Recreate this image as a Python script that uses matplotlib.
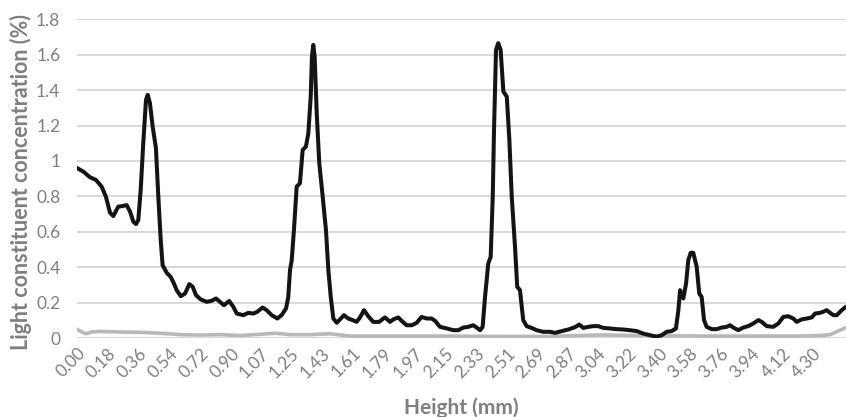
import matplotlib
matplotlib.use("Agg")
import matplotlib.pyplot as plt
import matplotlib.transforms as mtransforms

plt.rcParams['font.family'] = ['Lato', 'DejaVu Sans']

# black trace: height (mm) and concentration (%)
dark_x = [0.000, 0.037, 0.076, 0.111, 0.144, 0.169, 0.193, 0.212, 0.241, 0.267,
          0.290, 0.310, 0.329, 0.345, 0.358, 0.372, 0.387, 0.403, 0.413, 0.426,
          0.442, 0.461, 0.475, 0.489, 0.500, 0.524, 0.547, 0.566, 0.582, 0.606,
          0.631, 0.656, 0.676, 0.695, 0.722, 0.757, 0.787, 0.812, 0.835, 0.858,
          0.889, 0.913, 0.933, 0.971, 1.000, 1.030, 1.053, 1.084, 1.108, 1.137,
          1.170, 1.195, 1.221, 1.234, 1.244, 1.254, 1.267, 1.283, 1.302, 1.318,
          1.337, 1.351, 1.365, 1.372, 1.380, 1.388, 1.400, 1.415, 1.435, 1.454,
          1.468, 1.482, 1.497, 1.517, 1.536, 1.559, 1.584, 1.610, 1.633, 1.653,
          1.676, 1.701, 1.730, 1.765, 1.789, 1.799, 1.828, 1.847, 1.876, 1.896,
          1.925, 1.955, 1.984, 2.013, 2.042, 2.071, 2.091, 2.120, 2.159, 2.198,
          2.227, 2.256, 2.285, 2.314, 2.334, 2.354, 2.369, 2.383, 2.402, 2.416,
          2.428, 2.435, 2.447, 2.460, 2.474, 2.490, 2.510, 2.525, 2.539, 2.558,
          2.571, 2.587, 2.606, 2.626, 2.655, 2.685, 2.723, 2.762, 2.792, 2.831,
          2.869, 2.908, 2.933, 2.957, 2.986, 3.015, 3.044, 3.074, 3.113, 3.152,
          3.190, 3.230, 3.269, 3.307, 3.346, 3.385, 3.415, 3.444, 3.473, 3.498,
          3.512, 3.522, 3.541, 3.557, 3.570, 3.584, 3.599, 3.619, 3.634, 3.648,
          3.662, 3.677, 3.707, 3.736, 3.765, 3.794, 3.814, 3.833, 3.862, 3.891,
          3.920, 3.950, 3.979, 3.999, 4.028, 4.066, 4.096, 4.125, 4.154, 4.183,
          4.203, 4.232, 4.262, 4.291, 4.310, 4.339, 4.358, 4.378, 4.398, 4.417,
          4.437, 4.466, 4.485]
dark_y = [0.960, 0.940, 0.908, 0.893, 0.855, 0.798, 0.708, 0.689, 0.742, 0.746,
          0.751, 0.714, 0.657, 0.644, 0.667, 0.836, 1.100, 1.345, 1.373, 1.326,
          1.194, 1.072, 0.798, 0.554, 0.412, 0.369, 0.346, 0.309, 0.271, 0.237,
          0.252, 0.305, 0.290, 0.243, 0.219, 0.205, 0.211, 0.224, 0.205, 0.186,
          0.210, 0.177, 0.139, 0.130, 0.143, 0.139, 0.149, 0.173, 0.158, 0.130,
          0.111, 0.130, 0.168, 0.233, 0.384, 0.440, 0.610, 0.855, 0.874, 1.062,
          1.081, 1.156, 1.363, 1.589, 1.655, 1.589, 1.270, 0.987, 0.798, 0.610,
          0.384, 0.233, 0.111, 0.087, 0.106, 0.130, 0.111, 0.102, 0.092, 0.117,
          0.158, 0.124, 0.092, 0.092, 0.111, 0.117, 0.092, 0.106, 0.117, 0.098,
          0.073, 0.073, 0.087, 0.120, 0.111, 0.111, 0.098, 0.064, 0.055, 0.045,
          0.045, 0.060, 0.064, 0.073, 0.060, 0.045, 0.064, 0.233, 0.422, 0.459,
          0.798, 1.156, 1.627, 1.665, 1.627, 1.392, 1.363, 1.119, 0.798, 0.516,
          0.290, 0.271, 0.102, 0.068, 0.058, 0.045, 0.036, 0.036, 0.030, 0.040,
          0.049, 0.062, 0.077, 0.058, 0.064, 0.068, 0.068, 0.058, 0.055, 0.051,
          0.049, 0.045, 0.040, 0.026, 0.017, 0.008, 0.017, 0.036, 0.040, 0.055,
          0.158, 0.271, 0.224, 0.309, 0.440, 0.482, 0.482, 0.403, 0.252, 0.233,
          0.102, 0.064, 0.051, 0.051, 0.060, 0.064, 0.073, 0.060, 0.045, 0.060,
          0.068, 0.083, 0.102, 0.092, 0.068, 0.064, 0.083, 0.120, 0.124, 0.111,
          0.092, 0.106, 0.111, 0.117, 0.139, 0.143, 0.149, 0.158, 0.143, 0.130,
          0.130, 0.158, 0.173]

# grey trace
light_x = [0.000, 0.029, 0.053, 0.088, 0.134, 0.251, 0.368, 0.485, 0.602, 0.718,
           0.835, 0.952, 1.069, 1.156, 1.244, 1.361, 1.478, 1.594, 1.886, 2.178,
           2.470, 2.762, 3.054, 3.288, 3.638, 3.989, 4.222, 4.339, 4.398, 4.444,
           4.491]
light_y = [0.050, 0.035, 0.025, 0.035, 0.038, 0.035, 0.033, 0.028, 0.020, 0.018,
           0.020, 0.015, 0.022, 0.028, 0.020, 0.020, 0.025, 0.012, 0.012, 0.012,
           0.010, 0.010, 0.018, 0.015, 0.012, 0.012, 0.012, 0.015, 0.020, 0.040,
           0.060]

x_labels = ['0.00', '0.18', '0.36', '0.54', '0.72', '0.90', '1.07', '1.25', '1.43',
            '1.61', '1.79', '1.97', '2.15', '2.33', '2.51', '2.69', '2.87', '3.04',
            '3.22', '3.40', '3.58', '3.76', '3.94', '4.12', '4.30']
y_ticks = [0, 0.2, 0.4, 0.6, 0.8, 1.0, 1.2, 1.4, 1.6, 1.8]
y_labels = ['0', '0.2', '0.4', '0.6', '0.8', '1', '1.2', '1.4', '1.6', '1.8']

txt = '#7f7f7f'

fig = plt.figure(figsize=(8.46, 4.17), dpi=100)
ax = fig.add_axes([0.091, 0.189, 0.909, 0.765])

ax.plot(light_x, light_y, color='#b8b8b8', lw=2.6, solid_joinstyle='round', zorder=3)
ax.plot(dark_x, dark_y, color='#141414', lw=2.9, solid_joinstyle='round', zorder=4)

ax.set_xlim(0, 4.491)
ax.set_ylim(0, 1.8)
ax.set_yticks(y_ticks)
ax.set_yticklabels(y_labels)
ax.set_xticks([float(s) for s in x_labels])
ax.set_xticklabels(x_labels, rotation=45, ha='right', rotation_mode='anchor')

# nudge the slanted labels a little right, like Excel does
shift = mtransforms.ScaledTranslation(4 / 100, 0, fig.dpi_scale_trans)
for lab in ax.get_xticklabels():
    lab.set_transform(lab.get_transform() + shift)

ax.grid(axis='y', color='#d9d9d9', lw=1.5)
ax.set_axisbelow(True)
for s in ['top', 'right', 'left', 'bottom']:
    ax.spines[s].set_visible(False)
ax.tick_params(axis='both', length=0, labelsize=12.5, colors=txt)
ax.tick_params(axis='x', pad=5)
ax.tick_params(axis='y', pad=12)

ax.set_ylabel('Light constituent concentration (%)', fontsize=15.5,
              fontweight='bold', color=txt)
ax.yaxis.set_label_coords(-0.058, 0.49)
ax.set_xlabel('Height (mm)', fontsize=15, fontweight='bold', color=txt)
ax.xaxis.set_label_coords(0.5, -0.185)

fig.savefig('out.png', dpi=100)
